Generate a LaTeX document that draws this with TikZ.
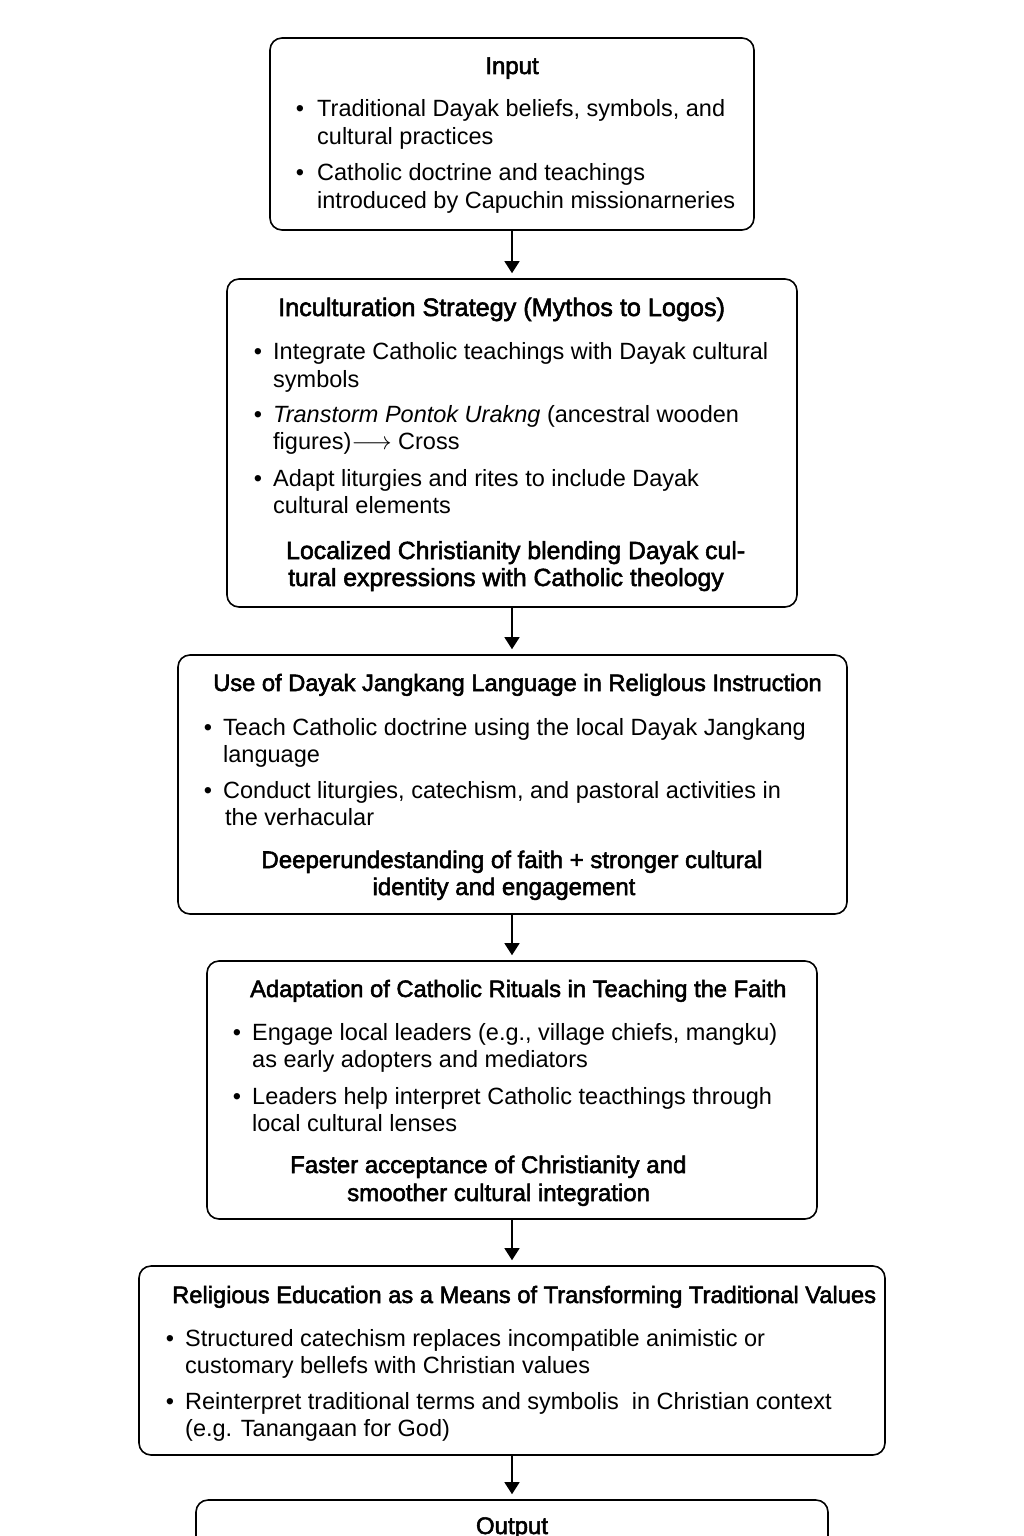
\documentclass[tikz,border=0pt]{standalone}
\usepackage{fontspec}
\setmainfont{Liberation Sans}
\newfontfamily\semib[FakeBold=2.2]{Liberation Sans}
\usetikzlibrary{arrows.meta}
\tikzset{
  box/.style={draw=black, line width=1.6pt, rounded corners=12pt, fill=white, inner sep=0pt},
  txt/.style={anchor=base west, inner sep=0pt, font=\fontsize{23.5}{28}\selectfont},
  ttl/.style={anchor=base west, inner sep=0pt, font=\fontsize{23.7}{28}\semib},
  con/.style={anchor=base west, inner sep=0pt, font=\fontsize{24}{28}\semib},
  ttlb/.style={anchor=base west, inner sep=0pt, font=\fontsize{25.2}{28}\semib},
  conb/.style={anchor=base west, inner sep=0pt, font=\fontsize{24.8}{28}\semib},
  ttlc/.style={anchor=base, inner sep=0pt, font=\fontsize{24}{28}\semib},
  bul/.style={anchor=base, inner sep=0pt, font=\fontsize{23.5}{28}\selectfont},
  arr/.style={draw=black, line width=1.3pt, -{Triangle[length=12pt,width=15pt]}, shorten >=5pt}
}
\begin{document}
\begin{tikzpicture}[x=1pt,y=-1pt]
\useasboundingbox (0,0) rectangle (1024,1536);
\fill[white] (0,0) rectangle (1024,1536);
\clip (0,0) rectangle (1024,1536);

% Boxes
\node[box, minimum width=484pt, minimum height=192pt] (b1) at (512,134) {};
\node[box, minimum width=570pt, minimum height=328pt] (b2) at (512,443) {};
\node[box, minimum width=669pt, minimum height=259pt] (b3) at (512.5,784.5) {};
\node[box, minimum width=610pt, minimum height=258pt] (b4) at (512,1090) {};
\node[box, minimum width=746pt, minimum height=189pt] (b5) at (512,1360.5) {};
\node[box, minimum width=632pt, minimum height=120pt] (b6) at (512,1560) {};

% Arrows
\draw[arr] (b1.south) -- (b1.south |- b2.north);
\draw[arr] (b2.south) -- (b2.south |- b3.north);
\draw[arr] (b4.north |- b3.south) -- (b4.north);
\draw[arr] (b4.south) -- (b4.south |- b5.north);
\draw[arr] (b5.south) -- (b5.south |- b6.north);

% Box 1
\node[ttlc] (t1) at (512,74) {Input};
\node[bul] (b1u1) at (300,117) {•};
\node[txt] (b1l1) at (317,117) {Traditional Dayak beliefs, symbols, and};
\node[txt] (b1l2) at (317,145) {cultural practices};
\node[bul] (b1u2) at (300,180) {•};
\node[txt] (b1l3) at (317,180) {Catholic doctrine and teachings};
\node[txt] (b1l4) at (317,208) {introduced by Capuchin missionarneries};

% Box 2
\node[ttlb] (t2) at (278,316) {Inculturation Strategy (Mythos to Logos)};
\node[bul] (b2u1) at (258,359) {•};
\node[txt] (b2l1) at (273,359) {Integrate Catholic teachings with Dayak cultural};
\node[txt] (b2l2) at (273,387) {symbols};
\node[bul] (b2u2) at (258,422) {•};
\node[txt] (b2l3) at (273,422) {\itshape Transtorm Pontok Urakng \upshape (ancestral wooden};
\node[txt] (b2l4) at (273,449) {figures)$\longrightarrow$ Cross};
\node[bul] (b2u3) at (258,486) {•};
\node[txt] (b2l5) at (273,486) {Adapt liturgies and rites to include Dayak};
\node[txt] (b2l6) at (273,513) {cultural elements};
\node[conb] (c2a) at (286,559) {Localized Christianity blending Dayak cul-};
\node[conb] (c2b) at (288,586) {tural expressions with Catholic theology};

% Box 3
\node[ttl] (t3) at (213,691) {Use of Dayak Jangkang Language in Religlous Instruction};
\node[bul] (b3u1) at (208,735) {•};
\node[txt] (b3l1) at (223,735) {Teach Catholic doctrine using the local Dayak Jangkang};
\node[txt] (b3l2) at (223,762) {language};
\node[bul] (b3u2) at (208,798) {•};
\node[txt] (b3l3) at (223,798) {Conduct liturgies, catechism, and pastoral activities in};
\node[txt] (b3l4) at (225,825) {the verhacular};
\node[ttlc] (c3a) at (512,868) {Deeperundestanding of faith + stronger cultural};
\node[ttlc] (c3b) at (504,895) {identity and engagement};

% Box 4
\node[ttl] (t4) at (250,997) {Adaptation of Catholic Rituals in Teaching the Faith};
\node[bul] (b4u1) at (237,1040) {•};
\node[txt] (b4l1) at (252,1040) {Engage local leaders (e.g., village chiefs, mangku)};
\node[txt] (b4l2) at (252,1067) {as early adopters and mediators};
\node[bul] (b4u2) at (237,1104) {•};
\node[txt] (b4l3) at (252,1104) {Leaders help interpret Catholic teacthings through};
\node[txt] (b4l4) at (252,1131) {local cultural lenses};
\node[con] (c4a) at (290,1173) {Faster acceptance of Christianity and};
\node[con] (c4b) at (347,1201) {smoother cultural integration};

% Box 5
\node[ttl] (t5) at (172,1303) {Religious Education as a Means of Transforming Traditional Values};
\node[bul] (b5u1) at (170,1346) {•};
\node[txt] (b5l1) at (185,1346) {Structured catechism replaces incompatible animistic or};
\node[txt] (b5l2) at (185,1373) {customary bellefs with Christian values};
\node[bul] (b5u2) at (170,1409) {•};
\node[txt] (b5l3) at (185,1409) {Reinterpret traditional terms and symbolis \ in Christian context};
\node[txt] (b5l4) at (185,1436) {(e.g. Tanangaan for God)};

% Output
\node[ttlc] (t6) at (512,1534) {Output};
\end{tikzpicture}
\end{document}
